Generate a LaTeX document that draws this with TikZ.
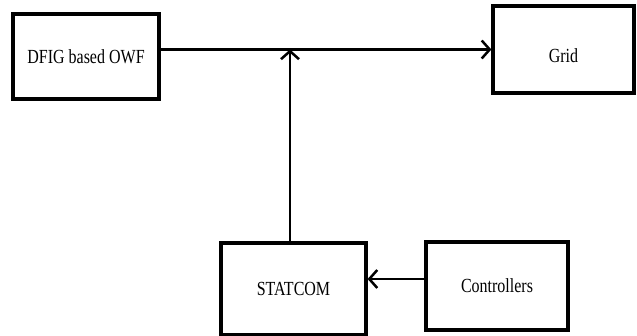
\documentclass[tikz,border=0pt]{standalone}
\usepackage{fontspec}
\setmainfont{Liberation Serif}
\usepackage{tikz}
\usetikzlibrary{positioning,arrows.meta}
\newcommand{\narrowtext}[1]{\scalebox{0.8}[1]{#1}}
\tikzset{
  feedarrow/.style={-{Straight Barb[length=8pt, width=18pt, line width=2.5pt]}, line width=2.6pt},
  blockbox/.style={draw, line width=3.2pt, minimum width=#1, minimum height=87pt, align=center, font=\fontsize{20}{24}\selectfont},
  blockbox/.default=143pt
}

\begin{document}
\begin{tikzpicture}[x=1pt, y=-1pt]
  \useasboundingbox (0,0) rectangle (637,336);
  \node[blockbox=146pt, minimum height=85pt] (dfig) at (86,56.5) {\narrowtext{DFIG based OWF}};
  \node[blockbox=141pt] (grid) at (563.5,49.5) {\raisebox{-13.5pt}[0pt][0pt]{\narrowtext{Grid}}};
  \node[blockbox=145pt, minimum height=92pt] (statcom) at (293.5,289) {\narrowtext{STATCOM}};
  \node[blockbox=142pt, minimum height=88pt] (ctrl) at (497,286) {\narrowtext{Controllers}};
  \coordinate (junc) at (290,49.5);
  \draw[feedarrow] (dfig.east |- grid.west) -- (grid.west);
  \draw[feedarrow] (statcom.north -| junc) -- (junc);
  \draw[feedarrow] ([yshift=7pt]ctrl.west) -- ([yshift=7pt]ctrl.west -| statcom.east);
\end{tikzpicture}
\end{document}
